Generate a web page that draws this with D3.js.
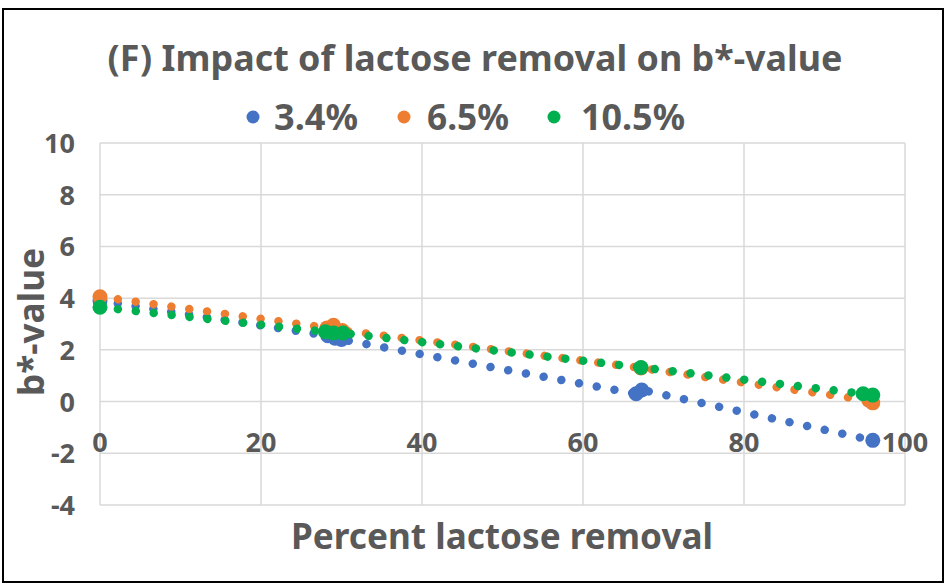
<!DOCTYPE html>
<html>
  <head>
    <meta charset="utf-8">
    <title>Impact of lactose removal on b*-value</title>
    <script src="https://cdn.jsdelivr.net/npm/d3@7"></script>
    <style>
      body { margin: 0; background: #fff; }
      text { font-family: "Noto Sans", "Open Sans", sans-serif; font-weight: bold; fill: #595959; }
    </style>
  </head>
  <body>
    <svg id="chart" width="946" height="585"></svg>

    <script>
      // data
      const seriesNames = ["3.4%", "6.5%", "10.5%"];
      const seriesColors = ["#4472C4", "#ED7D31", "#00B050"];
      const removal34 = [0, 28.3, 29.2, 30.0, 66.6, 67.3, 96.0];
      const bValue34 = [3.9, 2.55, 2.45, 2.4, 0.3, 0.45, -1.5];
      const removal65 = [0, 28.2, 29.0, 30.1, 67.2, 95.5, 96.0];
      const bValue65 = [4.05, 2.85, 2.95, 2.75, 1.3, 0.05, -0.05];
      const removal105 = [0, 28.0, 29.0, 30.2, 67.2, 94.8, 96.0];
      const bValue105 = [3.65, 2.7, 2.65, 2.65, 1.32, 0.3, 0.25];
      const xTicks = [0, 20, 40, 60, 80, 100];
      const yTicks = [-4, -2, 0, 2, 4, 6, 8, 10];

      const series = [
        { name: seriesNames[0], color: seriesColors[0], x: removal34, y: bValue34 },
        { name: seriesNames[1], color: seriesColors[1], x: removal65, y: bValue65 },
        { name: seriesNames[2], color: seriesColors[2], x: removal105, y: bValue105 }
      ];

      const svg = d3.select("#chart");

      // outer border
      svg.append("rect")
        .attr("x", 3).attr("y", 9)
        .attr("width", 940).attr("height", 573)
        .attr("fill", "none")
        .attr("stroke", "#000")
        .attr("stroke-width", 2);

      // scales
      const x = d3.scaleLinear().domain([0, 100]).range([100, 905]);
      const y = d3.scaleLinear().domain([-4, 10]).range([505, 143]);

      // gridlines
      svg.append("g")
        .selectAll("line")
        .data(yTicks)
        .join("line")
          .attr("x1", x(0)).attr("x2", x(100))
          .attr("y1", d => y(d)).attr("y2", d => y(d))
          .attr("stroke", "#d9d9d9")
          .attr("stroke-width", 1.5);
      svg.append("g")
        .selectAll("line")
        .data(xTicks)
        .join("line")
          .attr("x1", d => x(d)).attr("x2", d => x(d))
          .attr("y1", y(10)).attr("y2", y(-4))
          .attr("stroke", "#d9d9d9")
          .attr("stroke-width", 1.5);

      // y tick labels
      svg.append("g")
        .selectAll("text")
        .data(yTicks)
        .join("text")
          .attr("x", 75)
          .attr("y", d => y(d) + 10)
          .attr("text-anchor", "end")
          .style("font-size", "27px")
          .text(d => d);

      // x tick labels, next to the axis at y = 0
      svg.append("g")
        .selectAll("text")
        .data(xTicks)
        .join("text")
          .attr("x", d => x(d))
          .attr("y", y(0) + 50)
          .attr("text-anchor", "middle")
          .style("font-size", "27px")
          .text(d => d);

      // axis titles
      svg.append("text")
        .attr("transform", "translate(44,322) rotate(-90)")
        .attr("text-anchor", "middle")
        .attr("textLength", 148)
        .attr("lengthAdjust", "spacingAndGlyphs")
        .style("font-size", "36px")
        .text("b*-value");
      svg.append("text")
        .attr("x", 502)
        .attr("y", 549)
        .attr("text-anchor", "middle")
        .attr("textLength", 422)
        .attr("lengthAdjust", "spacingAndGlyphs")
        .style("font-size", "36px")
        .text("Percent lactose removal");

      // title
      svg.append("text")
        .attr("x", 475)
        .attr("y", 71)
        .attr("text-anchor", "middle")
        .attr("textLength", 735)
        .attr("lengthAdjust", "spacingAndGlyphs")
        .style("font-size", "36px")
        .text("(F) Impact of lactose removal on b*-value");

      // legend
      const legendDot = [253, 404, 554];
      const legendText = [274, 427, 581];
      const legendW = [84, 82, 104];
      const legend = svg.append("g")
        .selectAll("g")
        .data(series)
        .join("g");
      legend.append("circle")
        .attr("cx", (d, i) => legendDot[i])
        .attr("cy", 117)
        .attr("r", 6.5)
        .attr("fill", d => d.color);
      legend.append("text")
        .attr("x", (d, i) => legendText[i])
        .attr("y", 130)
        .attr("textLength", (d, i) => legendW[i])
        .attr("lengthAdjust", "spacingAndGlyphs")
        .style("font-size", "36px")
        .text(d => d.name);

      // series: round-dot lines with markers
      const line = d3.line()
        .x(d => x(d[0]))
        .y(d => y(d[1]));

      series.forEach(function(s) {
        const pts = s.x.map((v, i) => [v, s.y[i]]);
        const g = svg.append("g");
        g.append("path")
          .datum(pts)
          .attr("d", line)
          .attr("fill", "none")
          .attr("stroke", s.color)
          .attr("stroke-width", 8.5)
          .attr("stroke-linecap", "round")
          .attr("stroke-dasharray", "0.01 18");
        g.selectAll("circle")
          .data(pts)
          .join("circle")
            .attr("cx", d => x(d[0]))
            .attr("cy", d => y(d[1]))
            .attr("r", 7.5)
            .attr("fill", s.color);
      });
    </script>
  </body>
</html>
